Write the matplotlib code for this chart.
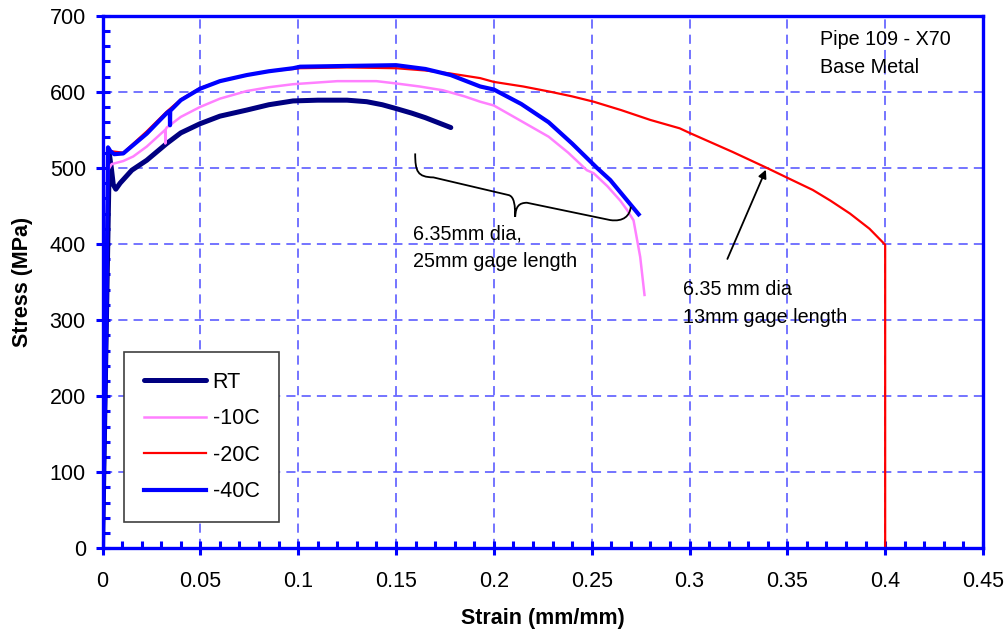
import matplotlib
matplotlib.use('Agg')
import matplotlib.pyplot as plt
from matplotlib.path import Path
from matplotlib.patches import PathPatch
from matplotlib.ticker import MultipleLocator

plt.rcParams['font.family'] = ['Liberation Sans', 'DejaVu Sans']

# strain (mm/mm), stress (MPa)
rt_strain = [0.0, 0.002, 0.0035, 0.0045, 0.0055, 0.0068, 0.009, 0.015, 0.0226, 0.0328, 0.04, 0.0498,
             0.06, 0.0737, 0.085, 0.0974, 0.11, 0.125, 0.135, 0.143, 0.150, 0.158, 0.165, 0.172, 0.178]
rt_stress = [0, 300, 518, 500, 478, 472, 480, 497, 510, 532, 546, 558,
             568, 576, 583, 588, 589, 589, 587, 583, 578, 572, 566, 559, 553]

m10_strain = [0.0, 0.002, 0.0028, 0.0047, 0.0106, 0.0157, 0.0226, 0.032, 0.0321, 0.0322, 0.0328, 0.04,
              0.0498, 0.06, 0.0737, 0.085, 0.0974, 0.12, 0.14, 0.150, 0.162, 0.174, 0.185, 0.193,
              0.2, 0.213, 0.228, 0.238, 0.2475, 0.251, 0.258, 0.2646, 0.268, 0.2714, 0.2748, 0.277]
m10_stress = [0, 300, 497, 505, 509, 515, 528, 550, 532, 550, 553, 567,
              580, 591, 601, 606, 610, 614, 614, 611, 607, 602, 594, 587,
              582, 563, 541, 520, 497, 493, 476, 457, 445, 431, 383, 333]

m20_strain = [0.0, 0.002, 0.0028, 0.004, 0.0106, 0.0226, 0.0328, 0.04, 0.0498, 0.06, 0.0737, 0.085,
              0.0974, 0.101, 0.125, 0.15, 0.165, 0.178, 0.193, 0.2, 0.215, 0.229, 0.24, 0.251,
              0.265, 0.28, 0.295, 0.3, 0.322, 0.3387, 0.35, 0.363, 0.372, 0.382, 0.392, 0.4, 0.4]
m20_stress = [0, 300, 527, 522, 520, 548, 574, 590, 605, 614, 622, 627,
              630, 631, 632, 631, 628, 624, 618, 613, 607, 600, 594, 587,
              576, 563, 552, 546, 521, 501, 487, 471, 457, 440, 420, 399, 0]

m40_strain = [0.0, 0.002, 0.0028, 0.004, 0.006, 0.0106, 0.0226, 0.0328, 0.0344, 0.0345, 0.0346,
              0.04, 0.0498, 0.06, 0.0737, 0.085, 0.0974, 0.101, 0.125, 0.15, 0.165, 0.178, 0.193,
              0.2, 0.214, 0.228, 0.24, 0.2527, 0.2595, 0.274]
m40_stress = [0, 300, 527, 522, 518, 519, 545, 572, 575, 556, 575,
              589, 604, 614, 622, 627, 631, 633, 634, 635, 630, 622, 607,
              603, 584, 560, 532, 500, 484, 439]

fig = plt.figure(figsize=(10.08, 6.39), dpi=100)
ax = fig.add_axes([0.1017, 0.1419, 0.8735, 0.8335])

ax.plot(rt_strain, rt_stress, color='#000080', lw=3.6, label='RT', solid_capstyle='round', zorder=3)
ax.plot(m10_strain, m10_stress, color='#ff80ff', lw=1.8, label='-10C', zorder=3)
ax.plot(m20_strain, m20_stress, color='#ff0000', lw=1.6, label='-20C', zorder=3)
ax.plot(m40_strain, m40_stress, color='#0000ff', lw=3.0, label='-40C', zorder=4)

ax.set_xlim(0, 0.45)
ax.set_ylim(0, 700)
ax.xaxis.set_major_locator(MultipleLocator(0.05))
ax.xaxis.set_minor_locator(MultipleLocator(0.01))
ax.yaxis.set_major_locator(MultipleLocator(100))
ax.yaxis.set_minor_locator(MultipleLocator(20))
ax.set_xticks([0, 0.05, 0.1, 0.15, 0.2, 0.25, 0.3, 0.35, 0.4, 0.45])
ax.set_xticklabels(['0', '0.05', '0.1', '0.15', '0.2', '0.25', '0.3', '0.35', '0.4', '0.45'])

ax.grid(True, which='major', color='#3030ff', lw=1.1, linestyle=(0, (6, 4)), alpha=0.85)
ax.set_axisbelow(True)
for s in ax.spines.values():
    s.set_color('#0000ff')
    s.set_linewidth(2.4)
    s.set_zorder(5)

ax.tick_params(which='major', direction='inout', length=10, width=2.2, color='#0000ff',
               labelsize=15.5, top=False, right=False)
ax.tick_params(axis='x', which='major', pad=11)
ax.tick_params(axis='y', which='major', pad=7)
ax.tick_params(which='minor', direction='in', length=5, width=2.2, color='#0000ff',
               top=False, right=False)

ax.set_xlabel('Strain (mm/mm)', fontsize=15.5, fontweight='bold', labelpad=12)
ax.set_ylabel('Stress (MPa)', fontsize=15.5, fontweight='bold', labelpad=12)

leg = ax.legend(loc='lower left', bbox_to_anchor=(0.0248, 0.05), borderaxespad=0,
                fontsize=15.5, handlelength=2.9, handletextpad=0.3, labelspacing=0.72,
                borderpad=0.9, fancybox=False, framealpha=1, edgecolor='#404040')
leg.get_frame().set_linewidth(1.2)
leg.set_zorder(6)

ax.text(0.3668, 681, 'Pipe 109 - X70\nBase Metal', fontsize=14.2, va='top', ha='left', linespacing=1.6)
ax.text(0.1588, 426, '6.35mm dia,\n25mm gage length', fontsize=14.2, va='top', ha='left', linespacing=1.6)
ax.text(0.2969, 353, '6.35 mm dia\n13mm gage length', fontsize=14.2, va='top', ha='left', linespacing=1.6)

ax.annotate('', xy=(0.3396, 501), xytext=(0.3188, 377),
            arrowprops=dict(arrowstyle='-|>', color='black', lw=1.3, mutation_scale=12), zorder=6)

brace = [(0.1598, 519), (0.1598, 495), (0.1610, 488), (0.1691, 487.5), (0.2075, 464.3),
         (0.2105, 462.5), (0.2109, 450), (0.2109, 435.8),
         (0.2112, 450), (0.2130, 454), (0.2169, 454.2), (0.2595, 431.4),
         (0.2663, 429), (0.2695, 437), (0.2700, 448.9)]
codes = [Path.MOVETO, Path.CURVE4, Path.CURVE4, Path.CURVE4, Path.LINETO,
         Path.CURVE4, Path.CURVE4, Path.CURVE4,
         Path.CURVE4, Path.CURVE4, Path.CURVE4, Path.LINETO,
         Path.CURVE4, Path.CURVE4, Path.CURVE4]
ax.add_patch(PathPatch(Path(brace, codes), facecolor='none', edgecolor='black', lw=1.3, zorder=6))

fig.savefig('out.png', dpi=100)
